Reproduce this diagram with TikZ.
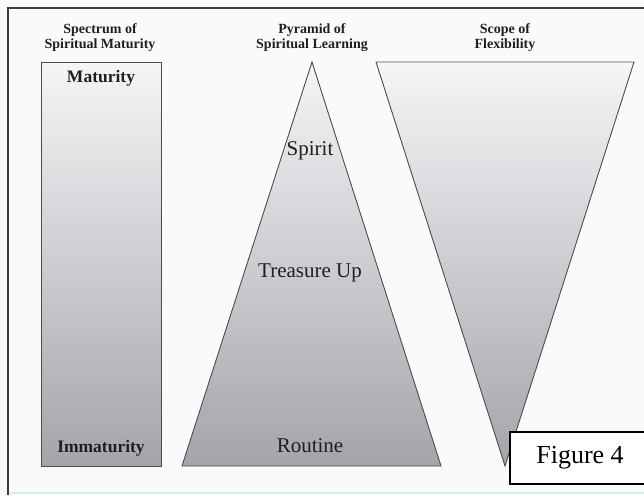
\documentclass[tikz,border=0pt]{standalone}
\usepackage{fontspec}
\setmainfont{Liberation Serif}
\definecolor{shapetop}{RGB}{245,245,247}
\definecolor{shapebot}{RGB}{163,165,170}
\definecolor{edgec}{RGB}{75,75,80}
\definecolor{framec}{RGB}{60,60,60}
\definecolor{bgc}{RGB}{250,250,250}
\definecolor{bandc}{RGB}{214,238,240}
\definecolor{textc}{RGB}{30,30,35}
\begin{document}
\begin{tikzpicture}[x=1pt,y=-1pt,
  shapestyle/.style={draw=edgec,line width=0.9pt,top color=shapetop,bottom color=shapebot},
  titlestyle/.style={font=\bfseries\fontsize{14}{15}\selectfont,align=center,text=textc,inner sep=0pt},
  boldlabel/.style={font=\bfseries\fontsize{17.5}{20}\selectfont,anchor=base,inner sep=0pt,text=textc},
  plainlabel/.style={font=\fontsize{21}{24}\selectfont,anchor=base,inner sep=0pt,text=textc},
  figboxstyle/.style={draw=black,line width=1.2pt,fill=white,font=\fontsize{26}{30}\selectfont,minimum width=140pt,minimum height=52pt,inner sep=0pt}]
\useasboundingbox (0,0) rectangle (644,495);
\fill[bgc] (0,0) rectangle (644,495);
% frame
\draw[framec,line width=2pt] (8,495) -- (8,8.5) -- (644,8.5);
\draw[bandc,line width=2pt] (9,493) -- (644,493);
% titles
\node[titlestyle] (t1) at (100,37.5) {Spectrum of\\Spiritual Maturity};
\node[titlestyle] (t2) at (312,37.5) {Pyramid of\\Spiritual Learning};
\node[titlestyle] (t3) at (505,37.5) {Scope of\\Flexibility};
% spectrum bar
\node[shapestyle,anchor=north west,minimum width=120pt,minimum height=404pt,inner sep=0pt] (spectrum) at (41,62) {};
% pyramid
\coordinate (pyrtop) at (312,62);
\coordinate (pyrl) at (182,466);
\coordinate (pyrr) at (441,466);
\draw[shapestyle] (pyrtop) -- (pyrr) -- (pyrl) -- cycle;
% scope (inverted)
\coordinate (scl) at (376,62);
\coordinate (scr) at (634,62);
\coordinate (scb) at (505,466);
\draw[shapestyle] (scl) -- (scr) -- (scb) -- cycle;
% labels
\node[boldlabel] (mat) at (101,82) {Maturity};
\node[boldlabel] (immat) at (101,452) {Immaturity};
\node[plainlabel] (spirit) at (310,155) {Spirit};
\node[plainlabel] (treasure) at (310,277) {Treasure Up};
\node[plainlabel] (routine) at (310,452) {Routine};
% figure box
\node[figboxstyle] (figure) at (580,458) {Figure 4};
\end{tikzpicture}
\end{document}
